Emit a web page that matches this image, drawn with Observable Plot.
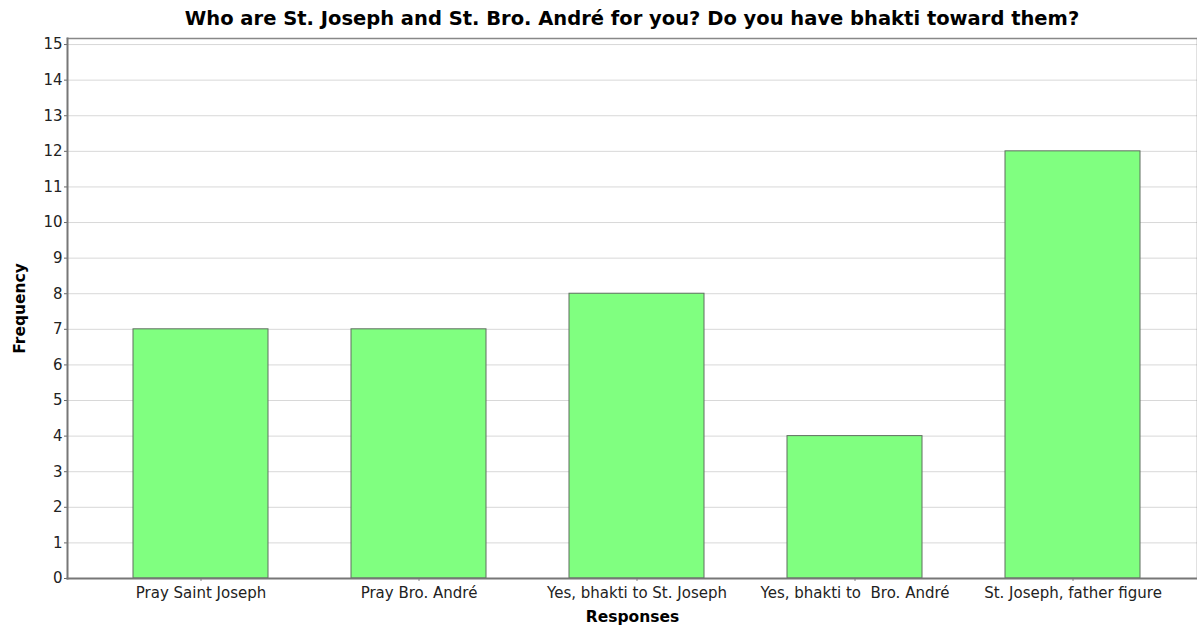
<!DOCTYPE html>
<html><head><meta charset="utf-8">
<script src="https://cdn.jsdelivr.net/npm/d3@7"></script>
<script src="https://cdn.jsdelivr.net/npm/@observablehq/plot@0.6"></script>
<style>
body{margin:0;background:#fff;font-family:"DejaVu Sans",sans-serif;width:1197px;overflow:hidden}
#title{height:30px;line-height:37px;padding-left:67px;text-align:center;font-weight:bold;font-size:19.5px;color:#000;white-space:nowrap}
#chart svg{display:block}
</style></head><body>
<div id="title">Who are St. Joseph and St. Bro. André for you? Do you have bhakti toward them?</div>
<div id="chart"></div>
<script>
const categories = ["Pray Saint Joseph", "Pray Bro. André", "Yes, bhakti to St. Joseph", "Yes, bhakti to  Bro. André", "St. Joseph, father figure"];
const frequencies = [7, 7, 8, 4, 12];
const yTicks = [0,1,2,3,4,5,6,7,8,9,10,11,12,13,14,15];
const data = categories.map((c, i) => ({response: c, frequency: frequencies[i]}));

const chart = Plot.plot({
  width: 1197,
  height: 597,
  marginLeft: 67,
  marginRight: 0,
  marginTop: 8,
  marginBottom: 49,
  style: {fontFamily: "DejaVu Sans, sans-serif", fontSize: "15px", color: "#222", background: "#fff"},
  x: {domain: categories, paddingInner: 0.38, paddingOuter: 0.2817, align: 0.537, label: "Responses", labelAnchor: "center"},
  y: {domain: [0, 15.17], label: "Frequency", labelAnchor: "center"},
  marks: [
    Plot.gridY(yTicks, {stroke: "#d8d8d8", strokeOpacity: 1}),
    Plot.barY(data, {x: "response", y: "frequency", fill: "#80ff80", stroke: "#5f6f5f", strokeWidth: 1}),
    Plot.axisY(yTicks, {tickSize: 3, tickPadding: 2, stroke: "#666", label: "Frequency", labelAnchor: "center", labelArrow: "none", labelOffset: 54}),
    Plot.axisX({tickSize: 3, tickPadding: 6, stroke: "#888", label: "Responses", labelAnchor: "center", labelArrow: "none", labelOffset: 43}),
    Plot.frame({anchor: "top", stroke: "#888", strokeWidth: 1.5}),
    Plot.frame({anchor: "left", stroke: "#777", strokeWidth: 2}),
    Plot.frame({anchor: "bottom", stroke: "#777", strokeWidth: 2}),
    Plot.frame({anchor: "right", stroke: "#888", strokeWidth: 1.5})
  ]
});
document.getElementById("chart").appendChild(chart);
d3.select(chart).selectAll('[aria-label="y-axis label"], [aria-label="x-axis label"]')
  .attr("font-weight", "bold").attr("font-size", "15.5px").attr("fill", "#000");
</script>
</body></html>
